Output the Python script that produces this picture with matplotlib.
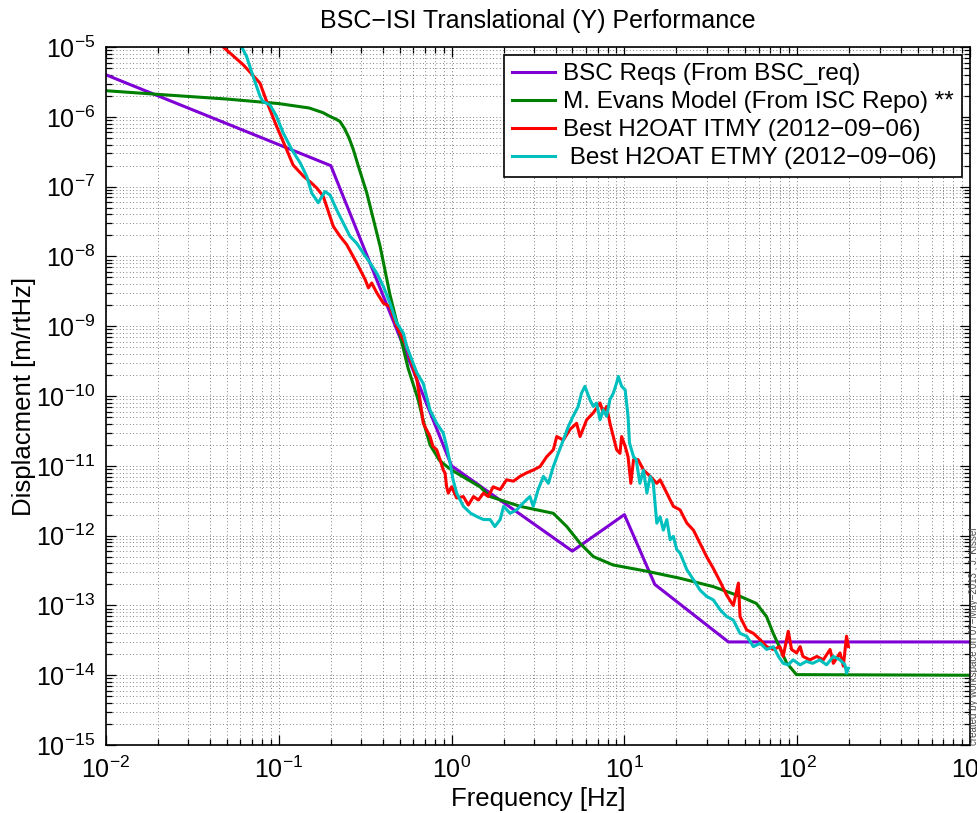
import matplotlib
matplotlib.use("Agg")
import matplotlib.pyplot as plt
from matplotlib.ticker import LogLocator, NullFormatter

plt.rcParams['font.family'] = ['Liberation Sans', 'DejaVu Sans']
plt.rcParams['mathtext.fontset'] = 'custom'
plt.rcParams['mathtext.rm'] = 'Liberation Sans'
plt.rcParams['mathtext.it'] = 'Liberation Sans:italic'
plt.rcParams['mathtext.bf'] = 'Liberation Sans:bold'

# BSC requirement (piecewise)
req_f = [0.01, 0.2, 1.0, 5.0, 10.0, 15.0, 40.0, 1000.0]
req_d = [4.0e-6, 2.0e-7, 1.0e-11, 6.0e-13, 2.0e-12, 2.0e-13, 3.0e-14, 3.0e-14]

# M. Evans model
evans_f = [0.01, 0.02, 0.05, 0.1, 0.15, 0.18, 0.2, 0.21, 0.226, 0.24, 0.255,
           0.27, 0.29, 0.323, 0.386, 0.44, 0.5, 0.56, 0.64, 0.70, 0.75, 0.85,
           0.94, 1.0, 1.46, 1.67, 2.49, 3.88, 4.64, 5.54, 6.61, 8.6, 13.5,
           21.0, 32.7, 46.7, 58.0, 66.5, 72.7, 86.8, 99.0, 1000.0]
evans_d = [2.37e-6, 2.10e-6, 1.80e-6, 1.55e-6, 1.34e-6, 1.15e-6, 1.0e-6,
           9.5e-7, 8.6e-7, 6.8e-7, 5.0e-7, 3.39e-7, 1.9e-7, 8.13e-8, 1.39e-8,
           2.82e-9, 7.94e-10, 2.51e-10, 8.91e-11, 3.63e-11, 2.0e-11, 1.20e-11,
           9.77e-12, 8.71e-12, 5.01e-12, 3.63e-12, 2.63e-12, 2.09e-12,
           1.35e-12, 7.76e-13, 5.01e-13, 3.80e-13, 3.09e-13, 2.45e-13,
           1.86e-13, 1.35e-13, 1.07e-13, 6.92e-14, 3.98e-14, 1.51e-14,
           1.02e-14, 1.0e-14]

# ITMY measurement
itmy_f = [0.04, 0.0477, 0.0623, 0.0778, 0.0851, 0.0973, 0.111, 0.121, 0.139,
          0.152, 0.166, 0.181, 0.198, 0.207, 0.226, 0.247, 0.282, 0.316, 0.33,
          0.345, 0.369, 0.403, 0.44, 0.481, 0.55, 0.63, 0.656, 0.686, 0.75,
          0.78, 0.82, 0.857, 0.895, 0.916, 0.936, 0.957, 1.0, 1.07, 1.17,
          1.25, 1.34, 1.43, 1.53, 1.63, 1.74, 1.91, 2.08, 2.28, 2.49, 2.72,
          2.97, 3.25, 3.55, 3.88, 4.06, 4.43, 4.84, 5.29, 5.54, 6.05, 6.61,
          7.23, 7.55, 7.89, 8.25, 8.63, 9.02, 9.43, 9.64, 10.1, 10.5, 10.9,
          11.3, 12.0, 12.9, 14.1, 15.4, 16.1, 17.6, 19.2, 21.0, 23.0, 25.1,
          27.4, 29.9, 32.7, 35.8, 39.1, 42.7, 45.7, 46.7, 51.0, 55.8, 61.0,
          66.6, 72.8, 79.4, 83.0, 88.8, 92.8, 99.3, 104.0, 108.0, 118.5,
          130.0, 141.6, 155.0, 162.0, 177.0, 185.0, 193.0, 198.0]
itmy_d = [1.5e-5, 1.0e-5, 5.57e-6, 3.05e-6, 1.66e-6, 7.24e-7, 3.39e-7,
          2.04e-7, 1.41e-7, 1.17e-7, 9.55e-8, 7.24e-8, 3.72e-8, 2.69e-8,
          1.95e-8, 1.48e-8, 8.13e-9, 4.68e-9, 3.55e-9, 4.17e-9, 3.02e-9,
          2.14e-9, 1.91e-9, 1.0e-9, 5.13e-10, 1.70e-10, 8.91e-11, 4.07e-11,
          2.63e-11, 1.91e-11, 1.70e-11, 1.23e-11, 8.71e-12, 7.94e-12,
          5.01e-12, 4.07e-12, 5.01e-12, 3.47e-12, 3.63e-12, 2.75e-12,
          3.63e-12, 3.24e-12, 4.07e-12, 3.63e-12, 5.01e-12, 4.57e-12,
          6.31e-12, 6.03e-12, 7.08e-12, 7.94e-12, 8.71e-12, 9.77e-12,
          1.35e-11, 1.70e-11, 2.63e-11, 2.34e-11, 3.31e-11, 4.07e-11,
          2.63e-11, 4.57e-11, 5.75e-11, 7.94e-11, 5.75e-11, 7.08e-11,
          4.07e-11, 2.63e-11, 1.70e-11, 1.51e-11, 2.63e-11, 1.91e-11,
          1.35e-11, 5.62e-12, 1.23e-11, 1.23e-11, 8.71e-12, 7.08e-12,
          5.62e-12, 6.31e-12, 4.07e-12, 2.63e-12, 2.34e-12, 1.51e-12,
          1.20e-12, 7.76e-13, 5.01e-13, 3.4e-13, 2.2e-13, 1.4e-13, 1.0e-13,
          2.09e-13, 6.92e-14, 4.47e-14, 3.98e-14, 3.24e-14, 2.57e-14,
          2.34e-14, 2.57e-14, 1.86e-14, 4.27e-14, 2.34e-14, 2.09e-14,
          2.57e-14, 1.86e-14, 1.66e-14, 1.86e-14, 1.66e-14, 2.34e-14,
          1.48e-14, 2.09e-14, 1.35e-14, 3.63e-14, 2.57e-14]

# ETMY measurement
etmy_f = [0.055, 0.061, 0.065, 0.071, 0.078, 0.081, 0.089, 0.097, 0.106,
          0.119, 0.133, 0.145, 0.155, 0.169, 0.185, 0.198, 0.216, 0.236,
          0.258, 0.282, 0.308, 0.337, 0.369, 0.403, 0.44, 0.481, 0.526, 0.55,
          0.63, 0.686, 0.75, 0.82, 0.895, 0.936, 0.98, 1.02, 1.07, 1.17, 1.29,
          1.41, 1.53, 1.67, 1.78, 1.91, 2.0, 2.18, 2.38, 2.6, 2.84, 2.97, 3.17,
          3.4, 3.63, 3.88, 4.14, 4.43, 4.73, 5.05, 5.4, 5.65, 5.91, 6.31, 6.61,
          6.9, 7.23, 7.55, 7.89, 8.25, 8.63, 9.02, 9.22, 9.64, 10.1, 10.5,
          10.7, 11.3, 11.7, 12.3, 12.9, 13.5, 14.1, 14.7, 15.4, 16.1, 16.8,
          17.6, 18.4, 19.2, 20.1, 21.0, 23.0, 25.1, 27.4, 29.9, 32.7, 35.8,
          39.1, 42.7, 46.7, 51.0, 55.8, 61.0, 66.6, 72.8, 77.9, 83.0, 88.8,
          94.7, 104.0, 113.0, 123.0, 135.0, 148.0, 162.0, 177.0, 189.0,
          193.0, 198.0]
etmy_d = [2.0e-5, 1.0e-5, 7.41e-6, 3.80e-6, 1.95e-6, 1.66e-6, 1.48e-6,
          1.02e-6, 5.89e-7, 3.39e-7, 2.19e-7, 1.41e-7, 8.13e-8, 5.89e-8,
          8.51e-8, 7.59e-8, 4.68e-8, 3.02e-8, 1.95e-8, 1.55e-8, 1.12e-8,
          8.13e-9, 5.75e-9, 3.72e-9, 2.14e-9, 1.12e-9, 7.94e-10, 5.13e-10,
          2.14e-10, 1.51e-10, 6.31e-11, 4.07e-11, 2.95e-11, 1.91e-11,
          1.10e-11, 6.31e-12, 4.07e-12, 2.63e-12, 2.09e-12, 1.86e-12,
          1.70e-12, 1.70e-12, 1.35e-12, 1.70e-12, 2.63e-12, 2.09e-12,
          2.34e-12, 2.95e-12, 3.63e-12, 2.63e-12, 4.57e-12, 7.08e-12,
          5.62e-12, 9.77e-12, 1.51e-11, 2.34e-11, 3.63e-11, 5.13e-11,
          7.08e-11, 1.10e-10, 1.38e-10, 8.91e-11, 7.08e-11, 7.94e-11,
          4.57e-11, 6.31e-11, 5.13e-11, 8.91e-11, 1.10e-10, 1.55e-10,
          1.91e-10, 1.38e-10, 1.23e-10, 5.13e-11, 2.14e-11, 1.35e-11,
          1.23e-11, 5.62e-12, 8.71e-12, 4.07e-12, 7.08e-12, 5.62e-12,
          1.51e-12, 1.86e-12, 1.20e-12, 1.70e-12, 8.71e-13, 9.77e-13,
          6.31e-13, 5.62e-13, 3.24e-13, 2.34e-13, 1.66e-13, 1.35e-13,
          1.20e-13, 8.71e-14, 6.92e-14, 6.17e-14, 3.98e-14, 3.63e-14,
          2.57e-14, 2.88e-14, 2.34e-14, 2.57e-14, 1.86e-14, 1.48e-14,
          1.41e-14, 1.66e-14, 1.41e-14, 1.58e-14, 1.48e-14, 1.66e-14,
          1.41e-14, 1.86e-14, 1.66e-14, 1.41e-14, 1.07e-14, 1.26e-14]

labels = ['BSC Reqs (From BSC_req)',
          'M. Evans Model (From ISC Repo) **',
          'Best H2OAT ITMY (2012\u221209\u221206)',
          ' Best H2OAT ETMY (2012\u221209\u221206)']
colors = ['#7f00d4', '#008000', '#ff0000', '#00bfbf']

fig = plt.figure(figsize=(9.77, 8.13), dpi=100)
ax = fig.add_axes([0.1085, 0.0836, 0.8843, 0.8585])

lw = 2.2
ax.loglog(req_f, req_d, color=colors[0], lw=lw, label=labels[0])
ax.loglog(evans_f, evans_d, color=colors[1], lw=lw, label=labels[1])
ax.loglog(itmy_f, itmy_d, color=colors[2], lw=lw, label=labels[2])
ax.loglog(etmy_f, etmy_d, color=colors[3], lw=lw, label=labels[3])

ax.set_xlim(1e-2, 1e3)
ax.set_ylim(1e-15, 1e-5)
ax.xaxis.set_major_locator(LogLocator(base=10, numticks=20))
ax.yaxis.set_major_locator(LogLocator(base=10, numticks=20))
ax.xaxis.set_minor_locator(LogLocator(base=10, subs=range(2, 10), numticks=20))
ax.yaxis.set_minor_locator(LogLocator(base=10, subs=range(2, 10), numticks=20))
ax.xaxis.set_minor_formatter(NullFormatter())
ax.yaxis.set_minor_formatter(NullFormatter())

ax.grid(which='both', color='0.35', linestyle=(0, (1, 3)), linewidth=0.6)
ax.tick_params(which='both', direction='in', top=True, right=True, width=0.9)
ax.tick_params(which='major', length=7, labelsize=18, pad=8)
ax.tick_params(which='minor', length=4)
for s in ax.spines.values():
    s.set_linewidth(1.2)

ax.set_title('BSC\u2212ISI Translational (Y) Performance', fontsize=18, pad=14)
ax.set_xlabel('Frequency [Hz]', fontsize=18.5, labelpad=3)
ax.set_ylabel('Displacment [m/rtHz]', fontsize=18.5, labelpad=0)

leg = ax.legend(loc='upper right', fontsize=17.5, handlelength=1.75,
                fancybox=False, framealpha=1, edgecolor='k',
                borderaxespad=0.33, borderpad=0.33, labelspacing=0.25,
                handletextpad=0.35)
leg.get_frame().set_linewidth(1.2)

fig.text(0.9969, 0.0836, 'created by workspace on 07\u2212May\u22122013 , J. Kissel',
         rotation=90, fontsize=7, color='0.3', ha='center', va='bottom')

fig.savefig('out.png', dpi=100)
